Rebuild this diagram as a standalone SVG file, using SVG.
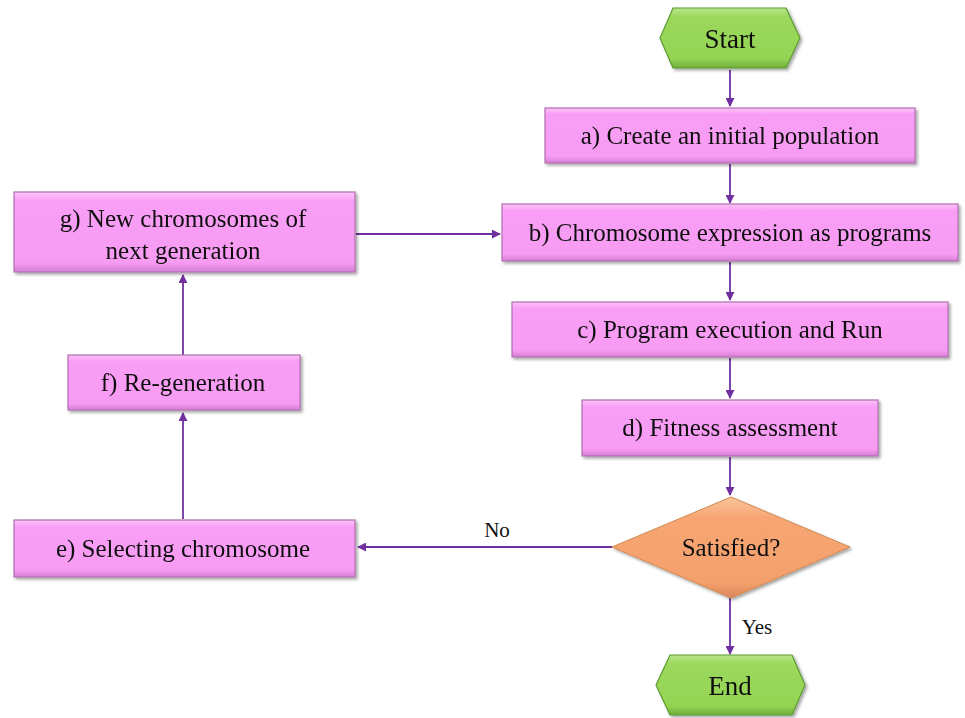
<svg xmlns="http://www.w3.org/2000/svg" width="965" height="718" viewBox="0 0 965 718">
<style>
.box{fill:url(#pk);stroke:#b070b0;stroke-width:1.2}
.hex{fill:url(#gr);stroke:#5a9a30;stroke-width:1.2}
.dia{fill:url(#or);stroke:#d08850;stroke-width:1}
.t{font-family:"Liberation Serif","Times New Roman",serif;font-size:25px;fill:#111;text-anchor:middle}
.big{font-size:27px}
.c{stroke:#7030a0;stroke-width:1.8;fill:none;marker-end:url(#ar)}
.lbl{font-family:"Liberation Serif","Times New Roman",serif;font-size:21px;fill:#111;text-anchor:middle}
</style>
<defs>
<linearGradient id="pk" x1="0" y1="0" x2="0" y2="1">
<stop offset="0" stop-color="#fbc2f8"/><stop offset="0.12" stop-color="#f99ef6"/><stop offset="0.88" stop-color="#f79bf3"/><stop offset="1" stop-color="#d57ed2"/>
</linearGradient>
<linearGradient id="gr" x1="0" y1="0" x2="0" y2="1">
<stop offset="0" stop-color="#b8e68a"/><stop offset="0.15" stop-color="#9bd85d"/><stop offset="0.85" stop-color="#94d453"/><stop offset="1" stop-color="#6fae3a"/>
</linearGradient>
<linearGradient id="or" x1="0" y1="0" x2="0" y2="1">
<stop offset="0" stop-color="#fbc49c"/><stop offset="0.2" stop-color="#f7a673"/><stop offset="0.85" stop-color="#f4a06c"/><stop offset="1" stop-color="#d9865a"/>
</linearGradient>
<filter id="sh" x="-10%" y="-10%" width="120%" height="130%">
<feDropShadow dx="2" dy="2" stdDeviation="1.5" flood-color="#000" flood-opacity="0.35"/>
</filter>
<marker id="ar" viewBox="0 0 10 10" refX="9" refY="5" markerWidth="5" markerHeight="5" orient="auto" markerUnits="strokeWidth">
<path d="M0,0 L10,5 L0,10 z" fill="#7030a0"/>
</marker>
</defs>
<g id="connectors">
<line class="c" x1="730" y1="70" x2="730" y2="106"/>
<line class="c" x1="730" y1="164" x2="730" y2="203"/>
<line class="c" x1="730" y1="262" x2="730" y2="300"/>
<line class="c" x1="730" y1="358" x2="730" y2="398"/>
<line class="c" x1="730" y1="457" x2="730" y2="495"/>
<line class="c" x1="730" y1="598" x2="730" y2="654"/>
<line class="c" x1="612" y1="547" x2="358" y2="547"/>
<line class="c" x1="183" y1="519" x2="183" y2="413"/>
<line class="c" x1="183" y1="355" x2="183" y2="275"/>
<line class="c" x1="356" y1="234" x2="500" y2="234"/>
<text class="lbl" x="497" y="537">No</text>
<text class="lbl" x="757" y="634">Yes</text>
</g>
<g id="start" filter="url(#sh)">
<polygon class="hex" points="673,8 786,8 800,38 786,68 673,68 660,38"/>
<text class="t big" x="730" y="48">Start</text>
</g>
<g id="a" filter="url(#sh)">
<rect class="box" x="545" y="108" width="370" height="55"/>
<text class="t" x="730" y="144">a) Create an initial population</text>
</g>
<g id="b" filter="url(#sh)">
<rect class="box" x="502" y="204" width="456" height="57"/>
<text class="t" x="730" y="241">b) Chromosome expression as programs</text>
</g>
<g id="c" filter="url(#sh)">
<rect class="box" x="512" y="302" width="436" height="55"/>
<text class="t" x="730" y="338">c) Program execution and Run</text>
</g>
<g id="d" filter="url(#sh)">
<rect class="box" x="582" y="400" width="296" height="56"/>
<text class="t" x="730" y="436">d) Fitness assessment</text>
</g>
<g id="satisfied" filter="url(#sh)">
<polygon class="dia" points="731,497 850,547 731,598 612,547"/>
<text class="t" x="731" y="556">Satisfied?</text>
</g>
<g id="end" filter="url(#sh)">
<polygon class="hex" points="670,655 792,655 805,685 792,715 670,715 656,685"/>
<text class="t big" x="730" y="695">End</text>
</g>
<g id="e" filter="url(#sh)">
<rect class="box" x="14" y="520" width="341" height="57"/>
<text class="t" x="183" y="557">e) Selecting chromosome</text>
</g>
<g id="f" filter="url(#sh)">
<rect class="box" x="68" y="355" width="232" height="55"/>
<text class="t" x="183" y="391">f) Re-generation</text>
</g>
<g id="g" filter="url(#sh)">
<rect class="box" x="14" y="192" width="341" height="80"/>
<text class="t" x="183" y="227">g) New chromosomes of</text>
<text class="t" x="183" y="259">next generation</text>
</g>
</svg>
